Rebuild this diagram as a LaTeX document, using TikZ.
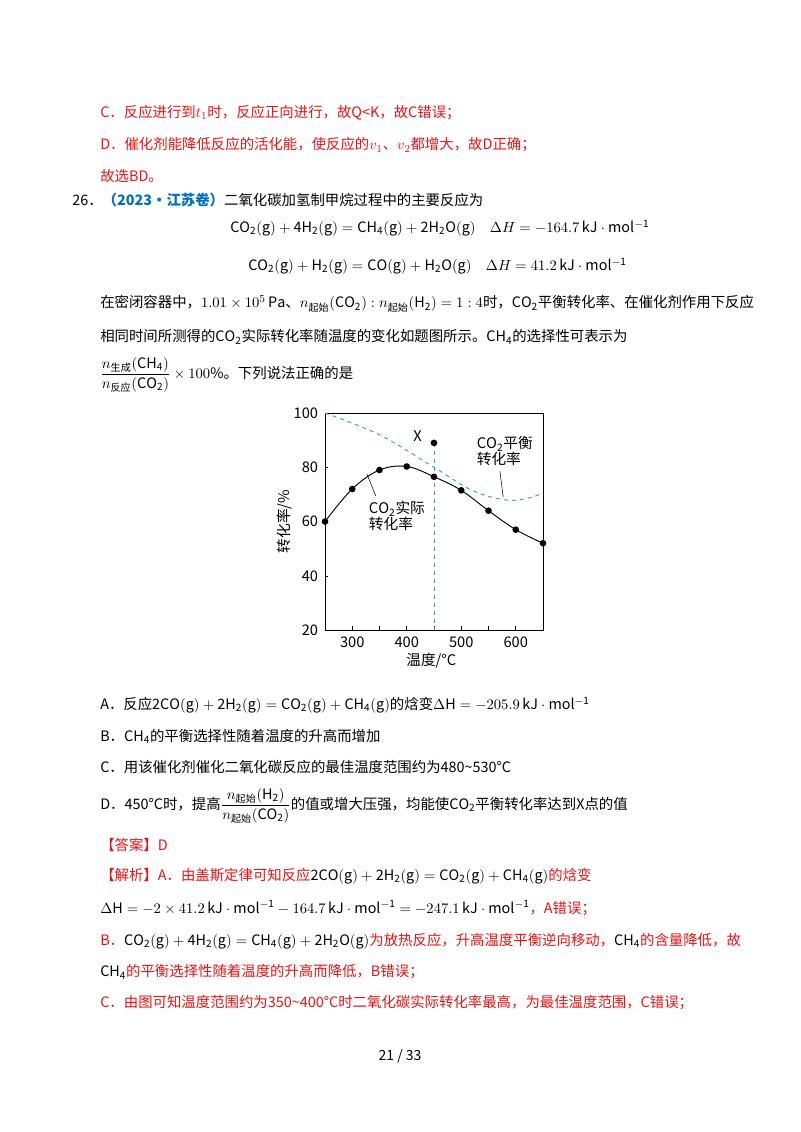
\documentclass[tikz,border=0pt]{standalone}
\usepackage{fontspec}
\setmainfont{Noto Sans CJK SC}
\usepackage{amsmath}
\begin{document}
\begin{tikzpicture}[x=0.75pt,y=-0.75pt,
  txt/.style={anchor=west,inner sep=0pt,font=\fontsize{10.8}{12}\selectfont},
  red/.style={text=rd},
  dot/.style={circle,fill=black,inner sep=0pt,minimum size=5pt}]
\definecolor{rd}{RGB}{235,20,20}
\definecolor{bl}{RGB}{0,112,192}
\definecolor{cy}{RGB}{40,160,230}
\useasboundingbox (0,0) rectangle (800,1132);
\fill[white] (0,0) rectangle (800,1132);
\node[txt,red] (l1) at (100,113) {C．反应进行到$t_1$时，反应正向进行，故Q<K，故C错误；};
\node[txt,red] (l2) at (100,145) {D．催化剂能降低反应的活化能，使反应的$v_1$、$v_2$都增大，故D正确；};
\node[txt,red] (l3) at (100,176) {故选BD。};
\node[txt] (l4) at (72,200) {26．\textcolor{bl}{\textbf{（2023·江苏卷）}}二氧化碳加氢制甲烷过程中的主要反应为};
\node[txt] (e1) at (230,228) {$\mathrm{CO_2(g)+4H_2(g)=CH_4(g)+2H_2O(g)}\quad \Delta H=-164.7\,\mathrm{kJ\cdot mol^{-1}}$};
\node[txt] (e2) at (248,266) {$\mathrm{CO_2(g)+H_2(g)=CO(g)+H_2O(g)}\quad \Delta H=41.2\,\mathrm{kJ\cdot mol^{-1}}$};
\node[txt] (l5) at (100,304) {在密闭容器中，$1.01\times10^5\,\mathrm{Pa}$、$n_{\text{起始}}(\mathrm{CO_2}):n_{\text{起始}}(\mathrm{H_2})=1:4$时，$\mathrm{CO_2}$平衡转化率、在催化剂作用下反应};
\node[txt] (l6) at (100,337) {相同时间所测得的$\mathrm{CO_2}$实际转化率随温度的变化如题图所示。$\mathrm{CH_4}$的选择性可表示为};
\node[txt] (l7) at (100,375) {$\dfrac{n_{\text{生成}}(\mathrm{CH_4})}{n_{\text{反应}}(\mathrm{CO_2})}\times100\%$。下列说法正确的是};
% chart
\draw[line width=0.6pt] (325,413) rectangle (543,630);
\begin{scope}[shift={(188.75,684.25)},x=0.40875pt,y=2.034pt,font=\fontsize{11}{12}\selectfont]
\foreach \t in {300,350,...,600} \draw (\t,20) -- (\t,21.5);
\foreach \t in {300,400,500,600} \node (xt\t) at (\t,15.3) {\t};
\foreach \v in {40,60,80} \draw (250,\v) -- (255,\v);
\foreach \v in {20,40,60,80,100} \node[anchor=east] (yt\v) at (246,\v) {\v};
\draw[cy,dashed,line width=0.7pt] plot[smooth,tension=0.6] coordinates {(250,100) (350,92) (450,80) (520,71.5) (580,68) (620,68.5) (650,70.5)};
\draw[cy,dashed,line width=0.7pt] (450,89) -- (450,20);
\draw[line width=0.7pt] plot[smooth,tension=0.6] coordinates {(250,60) (300,72) (350,79) (400,80.3) (450,76.5) (500,71.5) (550,64) (600,57) (650,52)};
\foreach \t/\v in {250/60,300/72,350/79,400/80.3,450/76.5,500/71.5,550/64,600/57,650/52,450/89}
  \node[dot] at (\t,\v) {};
\node (xl) at (420,91.5) {X};
\node[align=left] (ca) at (382,62) {$\mathrm{CO_2}$实际\\转化率};
\node[align=left] (ce) at (580,86) {$\mathrm{CO_2}$平衡\\转化率};
\coordinate (a1) at (327,77.5); \coordinate (a2) at (343,69.5);
\coordinate (b1) at (571,78.5); \coordinate (b2) at (577,69);
\draw (a1) -- (a2); \draw (b1) -- (b2);
\node[rotate=90] (yl) at (175,60) {转化率/\%};
\node (xlab) at (445,8.6) {温度/°C};
\end{scope}
\node[txt] (A) at (100,705) {A．反应$\mathrm{2CO(g)+2H_2(g)=CO_2(g)+CH_4(g)}$的焓变$\Delta\mathrm{H}=-205.9\,\mathrm{kJ\cdot mol^{-1}}$};
\node[txt] (B) at (100,736) {B．$\mathrm{CH_4}$的平衡选择性随着温度的升高而增加};
\node[txt] (C) at (100,767) {C．用该催化剂催化二氧化碳反应的最佳温度范围约为480\textasciitilde530°C};
\node[txt] (D) at (100,806) {D．450°C时，提高$\dfrac{n_{\text{起始}}(\mathrm{H_2})}{n_{\text{起始}}(\mathrm{CO_2})}$的值或增大压强，均能使$\mathrm{CO_2}$平衡转化率达到X点的值};
\node[txt,red] (ans) at (100,845) {【答案】D};
\node[txt] (j1) at (100,876) {\textcolor{rd}{【解析】A．由盖斯定律可知反应}$\mathrm{2CO(g)+2H_2(g)=CO_2(g)+CH_4(g)}$\textcolor{rd}{的焓变}};
\node[txt] (j2) at (100,908) {$\Delta\mathrm{H}=-2\times41.2\,\mathrm{kJ\cdot mol^{-1}}-164.7\,\mathrm{kJ\cdot mol^{-1}}=-247.1\,\mathrm{kJ\cdot mol^{-1}}$\textcolor{rd}{，A错误；}};
\node[txt] (j3) at (100,941) {\textcolor{rd}{B．}$\mathrm{CO_2(g)+4H_2(g)=CH_4(g)+2H_2O(g)}$\textcolor{rd}{为放热反应，升高温度平衡逆向移动，}$\mathrm{CH_4}$\textcolor{rd}{的含量降低，故}};
\node[txt] (j4) at (100,972) {$\mathrm{CH_4}$\textcolor{rd}{的平衡选择性随着温度的升高而降低，B错误；}};
\node[txt,red] (j5) at (100,1003) {C．由图可知温度范围约为350\textasciitilde400°C时二氧化碳实际转化率最高，为最佳温度范围，C错误；};
\node[font=\fontsize{10.5}{12}\selectfont] (pg) at (400,1056) {21 / 33};
\end{tikzpicture}
\end{document}
